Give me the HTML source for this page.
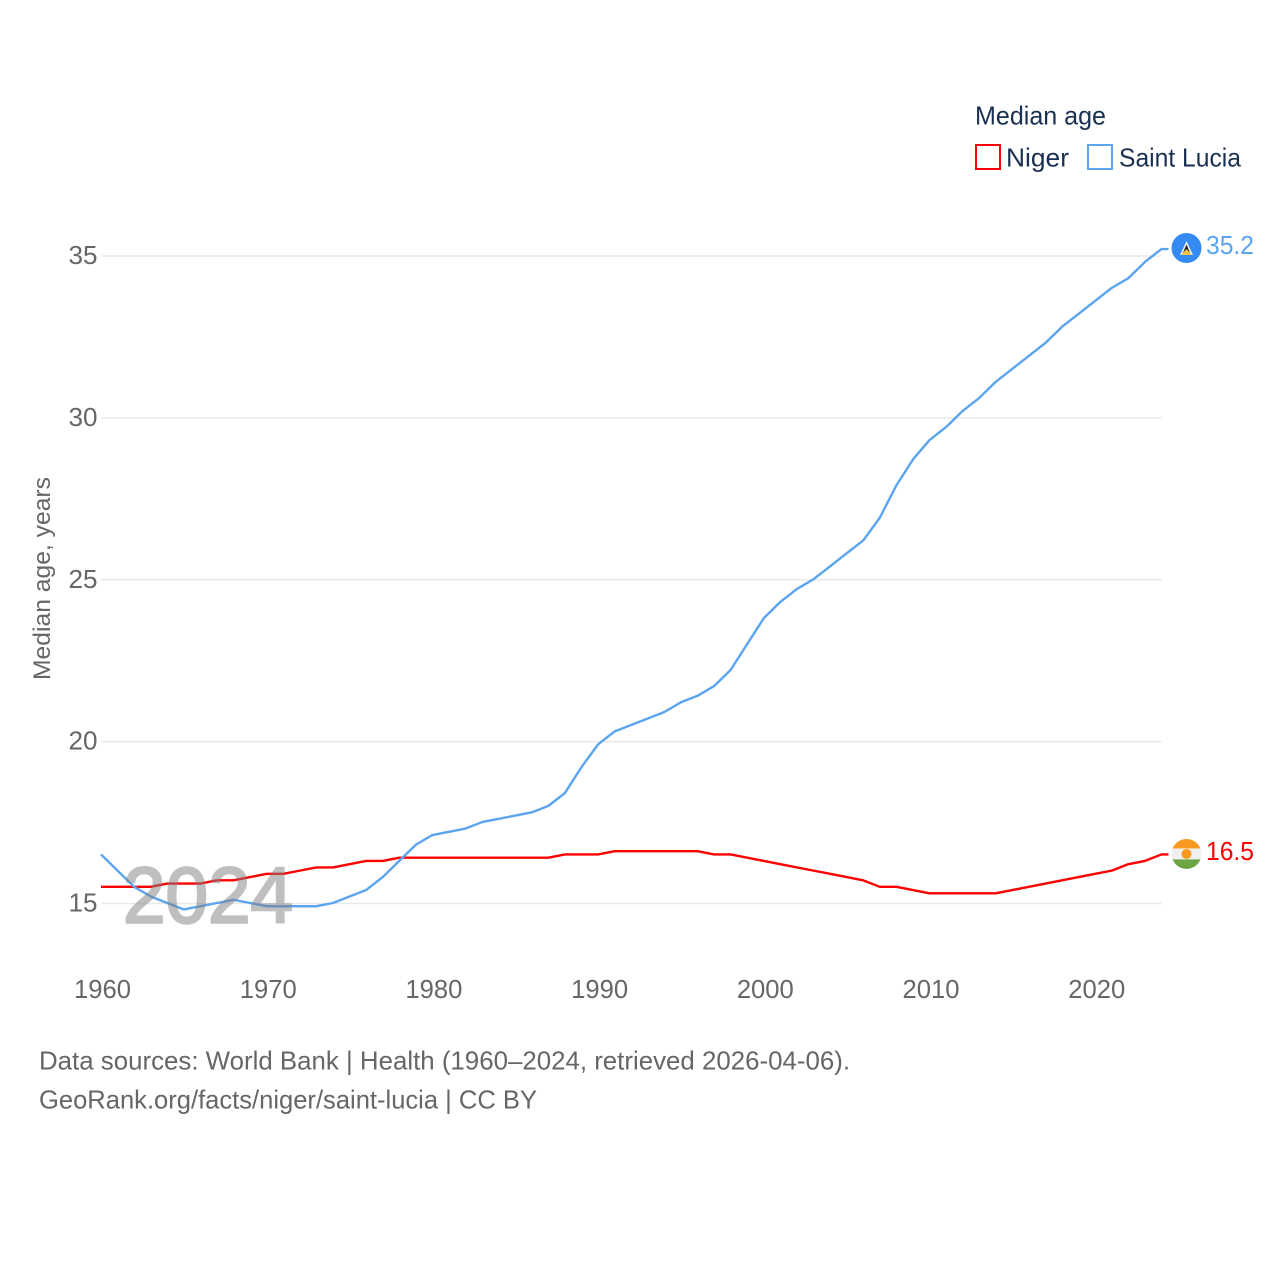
<!DOCTYPE html>
<html lang="en">
<head>
<meta charset="utf-8">
<title>Median age: Niger vs Saint Lucia</title>
<style>
html,body{margin:0;padding:0;background:#fff;width:1280px;height:1280px;overflow:hidden}
svg{display:block;font-family:"Liberation Sans",sans-serif}
</style>
</head>
<body>
<svg id="chart" width="1280" height="1280" viewBox="0 0 1280 1280" xmlns="http://www.w3.org/2000/svg">
  <defs>
    <clipPath id="lucia-clip"><circle id="lucia-clip-circle" cx="1186.5" cy="248" r="15"/></clipPath>
    <clipPath id="niger-clip"><circle id="niger-clip-circle" cx="1186.5" cy="854" r="15"/></clipPath>
  </defs>
  <g id="grid"></g>
  <g id="y-ticks"></g>
  <g id="x-ticks"></g>
  <text transform="translate(50,680) rotate(-90)" font-size="24.5" fill="#666" textLength="203" lengthAdjust="spacingAndGlyphs">Median age, years</text>

  <g id="series"></g>

  <text x="123" y="922.5" font-size="79" fill="#808080" stroke="#808080" stroke-width="2.5" opacity="0.5" textLength="170" lengthAdjust="spacingAndGlyphs">2024</text>

  <g id="end-markers"></g>

  <g>
    <text x="975" y="124.5" font-size="26" fill="#1a3050" textLength="131" lengthAdjust="spacingAndGlyphs">Median age</text>
    <rect x="976" y="145" width="24" height="24" fill="#fff" stroke="#ff0000" stroke-width="2"/>
    <text x="1006" y="166.5" font-size="26" fill="#1a3050" textLength="63" lengthAdjust="spacingAndGlyphs">Niger</text>
    <rect x="1088" y="145" width="24" height="24" fill="#fff" stroke="#5ba4f0" stroke-width="2"/>
    <text x="1119" y="166.5" font-size="26" fill="#1a3050" textLength="122" lengthAdjust="spacingAndGlyphs">Saint Lucia</text>
  </g>

  <text x="39" y="1069.5" font-size="26" fill="#666" textLength="811" lengthAdjust="spacingAndGlyphs">Data sources: World Bank | Health (1960–2024, retrieved 2026-04-06).</text>
  <text x="39" y="1108.5" font-size="26" fill="#666" textLength="498" lengthAdjust="spacingAndGlyphs">GeoRank.org/facts/niger/saint-lucia | CC BY</text>
</svg>
<script>
const years = [1960,1961,1962,1963,1964,1965,1966,1967,1968,1969,1970,1971,1972,1973,1974,1975,1976,1977,1978,1979,1980,1981,1982,1983,1984,1985,1986,1987,1988,1989,1990,1991,1992,1993,1994,1995,1996,1997,1998,1999,2000,2001,2002,2003,2004,2005,2006,2007,2008,2009,2010,2011,2012,2013,2014,2015,2016,2017,2018,2019,2020,2021,2022,2023,2024];
const nigerValues = [15.5,15.5,15.5,15.5,15.6,15.6,15.6,15.7,15.7,15.8,15.9,15.9,16.0,16.1,16.1,16.2,16.3,16.3,16.4,16.4,16.4,16.4,16.4,16.4,16.4,16.4,16.4,16.4,16.5,16.5,16.5,16.6,16.6,16.6,16.6,16.6,16.6,16.5,16.5,16.4,16.3,16.2,16.1,16.0,15.9,15.8,15.7,15.5,15.5,15.4,15.3,15.3,15.3,15.3,15.3,15.4,15.5,15.6,15.7,15.8,15.9,16.0,16.2,16.3,16.5];
const saintLuciaValues = [16.5,16.0,15.5,15.2,15.0,14.8,14.9,15.0,15.1,15.0,14.9,14.9,14.9,14.9,15.0,15.2,15.4,15.8,16.3,16.8,17.1,17.2,17.3,17.5,17.6,17.7,17.8,18.0,18.4,19.2,19.9,20.3,20.5,20.7,20.9,21.2,21.4,21.7,22.2,23.0,23.8,24.3,24.7,25.0,25.4,25.8,26.2,26.9,27.9,28.7,29.3,29.7,30.2,30.6,31.1,31.5,31.9,32.3,32.8,33.2,33.6,34.0,34.3,34.8,35.2];
const yTickValues = [15,20,25,30,35];
const xTickValues = [1960,1970,1980,1990,2000,2010,2020];

const NS = 'http://www.w3.org/2000/svg';
const xScale = function (year) { return 101 + (year - 1960) * (1161.5 - 101) / 64; };
const yScale = function (value) { return 903.5 - (value - 15) * (903.5 - 256) / 20; };

function make(tag, attrs, parent) {
  const el = document.createElementNS(NS, tag);
  for (const key in attrs) el.setAttribute(key, attrs[key]);
  parent.appendChild(el);
  return el;
}

const gridGroup = document.getElementById('grid');
const yTickGroup = document.getElementById('y-ticks');
const xTickGroup = document.getElementById('x-ticks');
const seriesGroup = document.getElementById('series');
const markerGroup = document.getElementById('end-markers');

yTickValues.forEach(function (tick) {
  const line = make('line', {x1: 101.5, x2: 1161.5, y1: yScale(tick), y2: yScale(tick), stroke: '#e9e9e9', 'stroke-width': 1.5}, gridGroup);
  
  
  const label = make('text', {x: 97.5, y: yScale(tick) + 8, 'text-anchor': 'end', 'font-size': 26, fill: '#666', textLength: 29, lengthAdjust: 'spacingAndGlyphs'}, yTickGroup);
  label.textContent = tick;
  
  
});

xTickValues.forEach(function (tick) {
  const label = make('text', {x: xScale(tick) + 1.5, y: 998, 'text-anchor': 'middle', 'font-size': 26, fill: '#666', textLength: 57, lengthAdjust: 'spacingAndGlyphs'}, xTickGroup);
  label.textContent = tick;
  
  
});

function drawSeries(values, color, name) {
  const pts = values.map(function (v, i) { return xScale(years[i]).toFixed(2) + ',' + (yScale(v) - 0.5).toFixed(2); });
  const last = values[values.length - 1];
  pts.push((xScale(years[years.length - 1]) + 7) + ',' + (yScale(last) - 0.5).toFixed(2));
  const line = make('polyline', {points: pts.join(' '), fill: 'none', stroke: color, 'stroke-width': 2.4, 'stroke-linejoin': 'round'}, seriesGroup);
  
  
}

drawSeries(nigerValues, '#ff0000', 'niger');
drawSeries(saintLuciaValues, '#5ba4f0', 'saint-lucia');

function endLabel(values, color, name, nudge) {
  const last = values[values.length - 1];
  const label = make('text', {x: 1206, y: yScale(last) + nudge, 'font-size': 26, fill: color, textLength: 48, lengthAdjust: 'spacingAndGlyphs'}, markerGroup);
  label.textContent = last.toFixed(1);
  
  
}

const luciaY = yScale(saintLuciaValues[saintLuciaValues.length - 1]) - 1.5;
const nigerY = yScale(nigerValues[nigerValues.length - 1]) - 1;
const cx = 1186.5;
document.getElementById('lucia-clip-circle').setAttribute('cy', luciaY);
document.getElementById('niger-clip-circle').setAttribute('cy', nigerY);

const luciaFlag = make('g', {'clip-path': 'url(#lucia-clip)'}, markerGroup);


make('rect', {x: cx - 15, y: luciaY - 15, width: 30, height: 30, fill: '#338af3'}, luciaFlag);
make('path', {d: 'M' + cx + ' ' + (luciaY - 7) + 'l6.5 14h-13z', fill: '#f3f3f3'}, luciaFlag);
make('path', {d: 'M' + cx + ' ' + (luciaY - 3.5) + 'l4.5 10.5h-9z', fill: '#222'}, luciaFlag);
make('path', {d: 'M' + cx + ' ' + (luciaY + 1) + 'l5.5 6h-11z', fill: '#f5c342'}, luciaFlag);

const nigerFlag = make('g', {'clip-path': 'url(#niger-clip)'}, markerGroup);


make('rect', {x: cx - 15, y: nigerY - 15, width: 30, height: 30, fill: '#f0f0f0'}, nigerFlag);
make('rect', {x: cx - 15, y: nigerY - 15, width: 30, height: 9.5, fill: '#f79a1f'}, nigerFlag);
make('rect', {x: cx - 15, y: nigerY + 5.5, width: 30, height: 9.5, fill: '#6da544'}, nigerFlag);
make('circle', {cx: cx, cy: nigerY, r: 5, fill: '#f79a1f'}, nigerFlag);

endLabel(saintLuciaValues, '#5ba4f0', 'saint-lucia', 4.5);
endLabel(nigerValues, '#ff0000', 'niger', 5);
</script>
</body>
</html>
